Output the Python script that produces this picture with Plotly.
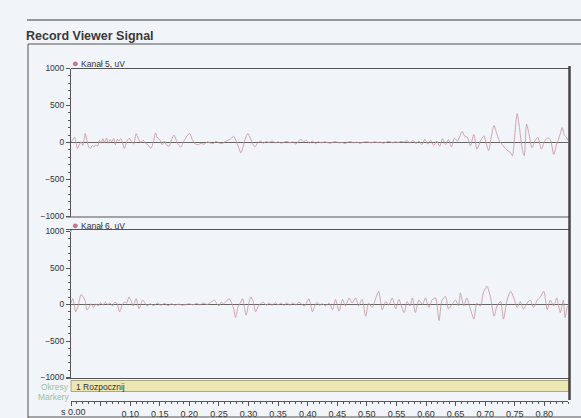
import plotly.graph_objects as go

# ---------------- data ----------------
channel_names = ["Kanał 5, uV", "Kanał 6, uV"]
period_label = "1 Rozpocznij"
row_labels = ["Okresy", "Markery"]
x_tickvals = [0.00, 0.05, 0.10, 0.15, 0.20, 0.25, 0.30, 0.35, 0.40, 0.45, 0.50, 0.55, 0.60, 0.65, 0.70, 0.75, 0.80]
x_ticktext = ["", "", "0.10", "0.15", "0.20", "0.25", "0.30", "0.35", "0.40", "0.45", "0.50", "0.55", "0.60", "0.65", "0.70", "0.75", "0.80"]
y_tickvals = [-1000, -500, 0, 500, 1000]

t5 = [0.000, 0.003, 0.006, 0.009, 0.011, 0.014, 0.017, 0.020, 0.024, 0.027, 0.030, 0.033, 0.036, 0.039,
      0.042, 0.045, 0.048, 0.051, 0.054, 0.057, 0.060, 0.063, 0.066, 0.069, 0.072, 0.075, 0.078, 0.081,
      0.084, 0.087, 0.090, 0.093, 0.096, 0.099, 0.102, 0.106, 0.110, 0.114, 0.118, 0.122, 0.126, 0.130,
      0.135, 0.139, 0.143, 0.146, 0.150, 0.154, 0.158, 0.162, 0.166, 0.170, 0.174, 0.178, 0.182, 0.186,
      0.190, 0.194, 0.198, 0.201, 0.205, 0.210, 0.215, 0.220, 0.225, 0.230, 0.235, 0.240, 0.245, 0.250,
      0.255, 0.260, 0.265, 0.270, 0.275, 0.279, 0.283, 0.287, 0.291, 0.295, 0.299, 0.303, 0.307, 0.311,
      0.315, 0.320, 0.325, 0.330, 0.335, 0.340, 0.345, 0.350, 0.355, 0.360, 0.365, 0.370, 0.375, 0.380,
      0.385, 0.389, 0.393, 0.398, 0.403, 0.408, 0.413, 0.418, 0.423, 0.428, 0.433, 0.438, 0.443, 0.448,
      0.453, 0.458, 0.463, 0.468, 0.473, 0.478, 0.483, 0.488, 0.493, 0.498, 0.503, 0.508, 0.513, 0.518,
      0.523, 0.528, 0.533, 0.538, 0.543, 0.548, 0.553, 0.558, 0.563, 0.568, 0.573, 0.578, 0.583, 0.588,
      0.593, 0.598, 0.603, 0.608, 0.613, 0.618, 0.623, 0.628, 0.633, 0.638, 0.643, 0.648, 0.653, 0.657,
      0.661, 0.665, 0.670, 0.675, 0.681, 0.686, 0.692, 0.698, 0.702, 0.706, 0.710, 0.715, 0.719, 0.724,
      0.729, 0.734, 0.738, 0.742, 0.746, 0.750, 0.754, 0.758, 0.762, 0.766, 0.770, 0.774, 0.779, 0.784,
      0.789, 0.795, 0.800, 0.805, 0.810, 0.816, 0.820, 0.824, 0.827, 0.830, 0.834, 0.838, 0.840]
v5 = [0, 40, 70, -20, -80, -30, 10, -40, 120, 20, -60, -80, -40, -60,
      -30, -50, 30, -10, 50, 0, 60, -10, 40, 10, 55, -30, 40, 20,
      55, 0, -80, -20, 40, 55, 10, -20, 120, 50, 0, 30, -10, -30,
      -80, 0, 130, 60, 40, -30, 20, -40, -50, 40, 100, 30, -40, -60,
      10, 60, 110, 120, 40, -20, -30, -10, -25, 10, -5, -15, 15, -5,
      -15, 10, 30, 50, 85, 20, -60, -140, -50, 60, 120, 60, -20, -60,
      -10, 20, -10, 15, 0, 20, -5, 10, -10, 5, 15, -5, 10, -20,
      25, 40, 10, 30, -10, 20, -15, 10, -5, 10, 0, -10, 5, 10,
      -5, 0, -15, 5, 10, -5, 5, -10, 0, 10, 5, -5, 10, 0,
      5, -10, 5, 15, -5, 10, 0, 15, 5, 25, -10, 30, -15, 20,
      -30, 40, -20, 30, -40, 20, -50, 50, -30, 40, -60, 60, 20, 80,
      150, 90, 70, -45, 110, -90, 20, 90, -20, -110, 60, 230, 135, 20,
      -30, -80, -110, -130, -180, 100, 390, 200, -60, -180, 250, 120, -70, 20,
      70, -90, 10, 60, 40, -160, -40, 45, 120, 200, 100, 60, 30]

t6 = [0.000, 0.003, 0.008, 0.012, 0.017, 0.021, 0.024, 0.027, 0.031, 0.034, 0.038, 0.042, 0.046, 0.050,
      0.054, 0.058, 0.062, 0.066, 0.070, 0.074, 0.078, 0.082, 0.086, 0.090, 0.094, 0.098, 0.102, 0.105,
      0.110, 0.115, 0.121, 0.125, 0.129, 0.134, 0.140, 0.146, 0.152, 0.158, 0.164, 0.170, 0.176, 0.182,
      0.188, 0.194, 0.200, 0.206, 0.212, 0.218, 0.224, 0.230, 0.236, 0.242, 0.246, 0.250, 0.254, 0.258,
      0.262, 0.267, 0.271, 0.275, 0.278, 0.282, 0.286, 0.290, 0.293, 0.296, 0.300, 0.304, 0.308, 0.312,
      0.316, 0.320, 0.325, 0.330, 0.335, 0.340, 0.345, 0.350, 0.355, 0.360, 0.365, 0.370, 0.375, 0.380,
      0.385, 0.390, 0.395, 0.399, 0.402, 0.405, 0.408, 0.412, 0.416, 0.420, 0.425, 0.430, 0.436, 0.442,
      0.447, 0.453, 0.459, 0.464, 0.470, 0.475, 0.481, 0.486, 0.492, 0.498, 0.503, 0.509, 0.514, 0.520,
      0.526, 0.532, 0.537, 0.543, 0.549, 0.554, 0.563, 0.568, 0.573, 0.577, 0.582, 0.588, 0.594, 0.599,
      0.605, 0.610, 0.616, 0.622, 0.627, 0.633, 0.638, 0.644, 0.650, 0.655, 0.658, 0.664, 0.669, 0.675,
      0.681, 0.686, 0.692, 0.697, 0.703, 0.709, 0.715, 0.720, 0.726, 0.731, 0.737, 0.743, 0.748, 0.754,
      0.759, 0.765, 0.771, 0.776, 0.782, 0.788, 0.793, 0.799, 0.805, 0.810, 0.816, 0.821, 0.827, 0.832,
      0.835, 0.838, 0.840]
v6 = [20, 80, -100, -20, 135, 100, 40, -75, -30, 10, -40, 10, -20, 25,
      -10, 30, 0, 20, -20, 30, 10, -100, -20, 35, 20, 105, 40, -20,
      80, -55, 60, 20, -20, 10, -15, 20, -10, 15, -15, 10, -10, 5,
      -10, 0, 10, -5, 15, -5, 20, 0, 30, 60, 20, -20, 30, 10,
      40, 80, 30, -60, -180, -40, 20, 80, -40, -145, 0, 105, 40, -100,
      -30, 10, 30, -10, 20, -10, 25, -5, 20, -15, 25, -10, 20, -5,
      30, 0, -20, 40, 80, 0, -100, -20, 30, -10, 10, -20, 20, -70,
      70, -90, 70, -20, 90, 20, 90, -20, 70, -160, 20, -40, 60, 180,
      -70, 40, -10, 90, -60, 70, -110, 40, -20, 90, -110, 60, 0, 90,
      -40, 60, 90, -220, 60, 110, -60, 0, 60, -20, 160, -20, 90, -60,
      -200, 20, -20, 160, 250, 100, -160, -20, 40, -200, 60, 180, 100, -40,
      40, -60, 20, 60, -40, 60, 100, 180, -70, 60, -20, 90, -110, 60,
      -180, -60, -20]

# ---------------- layout helpers (pixel -> paper) ----------------
W, H = 581, 418
def X(px):
    return px / W
def Y(py):
    return 1 - py / H

BG = "#f1f4f9"
SIG = "#c4949d"
AX = "#555555"
TXT = "#333333"
FONT = "Arial, Liberation Sans, sans-serif"

PL, PR = 71, 568
P1T, P1B = 68.5, 216.5
P2T, P2B = 231.5, 377.5

fig = go.Figure()
fig.add_trace(go.Scatter(x=t5, y=v5, mode="lines", line=dict(color=SIG, width=0.8, shape="spline", smoothing=0.7),
                         xaxis="x", yaxis="y", showlegend=False, hoverinfo="skip"))
fig.add_trace(go.Scatter(x=t6, y=v6, mode="lines", line=dict(color=SIG, width=0.8, shape="spline", smoothing=0.7),
                         xaxis="x2", yaxis="y2", showlegend=False, hoverinfo="skip"))

yax = dict(range=[-1000, 1000], tickvals=y_tickvals, ticks="outside", ticklen=4, tickwidth=1,
           tickcolor=AX, showline=True, linecolor=AX, linewidth=1, showgrid=False, automargin=False,
           zeroline=True, zerolinecolor="#666666", zerolinewidth=1,
           tickfont=dict(family=FONT, size=8.5, color=TXT),
           minor=dict(dtick=100, ticks="outside", ticklen=2, tickcolor=AX), fixedrange=True)

fig.update_layout(
    template="none",
    width=W, height=H, margin=dict(l=0, r=0, t=0, b=0, pad=0), autosize=False,
    paper_bgcolor=BG, plot_bgcolor=BG,
    xaxis=dict(domain=[X(PL), X(PR)], range=[0, 0.84], anchor="y", showticklabels=False, automargin=False,
               ticks="", showgrid=False, zeroline=False, showline=False),
    xaxis2=dict(domain=[X(PL), X(PR)], range=[0, 0.84], anchor="free", position=Y(401), automargin=False,
                tickvals=x_tickvals, ticktext=x_ticktext, ticks="outside", ticklen=4, tickwidth=1,
                tickcolor=AX, showline=True, linecolor=AX, linewidth=1, showgrid=False, zeroline=False,
                tickfont=dict(family=FONT, size=9, color=TXT),
                minor=dict(dtick=0.01, tick0=0, ticks="outside", ticklen=2, tickcolor=AX)),
    yaxis=dict(domain=[Y(P1B), Y(P1T)], anchor="x", **yax),
    yaxis2=dict(domain=[Y(P2B), Y(P2T)], anchor="x2", **yax),
)

def hline(py, x0, x1, color=AX, width=1):
    fig.add_shape(type="line", xref="paper", yref="paper", x0=X(x0), x1=X(x1), y0=Y(py), y1=Y(py),
                  line=dict(color=color, width=width))

def vline(px, y0, y1, color=AX, width=1):
    fig.add_shape(type="line", xref="paper", yref="paper", x0=X(px), x1=X(px), y0=Y(y0), y1=Y(y1),
                  line=dict(color=color, width=width))

# periods band, with its label
fig.add_shape(type="rect", xref="paper", yref="paper", x0=X(PL), x1=X(569), y0=Y(391.5), y1=Y(380.5),
              fillcolor="#ece6b2", line=dict(color="#9c9772", width=0.8), layer="above",
              label=dict(text=period_label, textposition="middle left", padding=2,
                         font=dict(family=FONT, size=8.5, color="#333333")))

# page frame
hline(20, 27, 581, "#3a3a3a", 1.2)
hline(44, 28, 581, "#555555", 1)
vline(28, 44, 418, "#555555", 1)
hline(417, 28, 581, "#555555", 1)
# panel frames
hline(P1T, PL, PR + 2)
hline(P1B + 0.5, 66, PR + 2)
hline(229.5, 66, PR + 2)
hline(P2B + 1, 66, PR + 2)
vline(PL, 229.5, P2T)
vline(569.5, 66, 400, "#454545", 2.5)

def text(s, px, py, size=9, color=TXT, xanchor="left", bold=False):
    fig.add_annotation(xref="paper", yref="paper", x=X(px), y=Y(py), text=("<b>%s</b>" % s) if bold else s,
                       showarrow=False, xanchor=xanchor, yanchor="middle", borderpad=0, borderwidth=0,
                       font=dict(family=FONT, size=size, color=color))

text("Record Viewer Signal", 26, 36, size=12.5, color="#3a3a3a", bold=True)
text('<span style="color:#c27a86;font-size:11px">●</span> %s' % channel_names[0], 72, 62.5, size=8.5)
text('<span style="color:#c27a86;font-size:11px">●</span> %s' % channel_names[1], 72, 224.5, size=8.5)
text(row_labels[0], 69, 387, size=8.5, color="#9cc29c", xanchor="right")
text(row_labels[1], 69, 397, size=8.5, color="#9cc29c", xanchor="right")
text("s 0.00", 61, 412, size=9, color=TXT)

fig.write_html("out.html", config={"displayModeBar": False, "staticPlot": True},
               post_script="document.body.style.margin='0';document.body.style.overflow='hidden';")
